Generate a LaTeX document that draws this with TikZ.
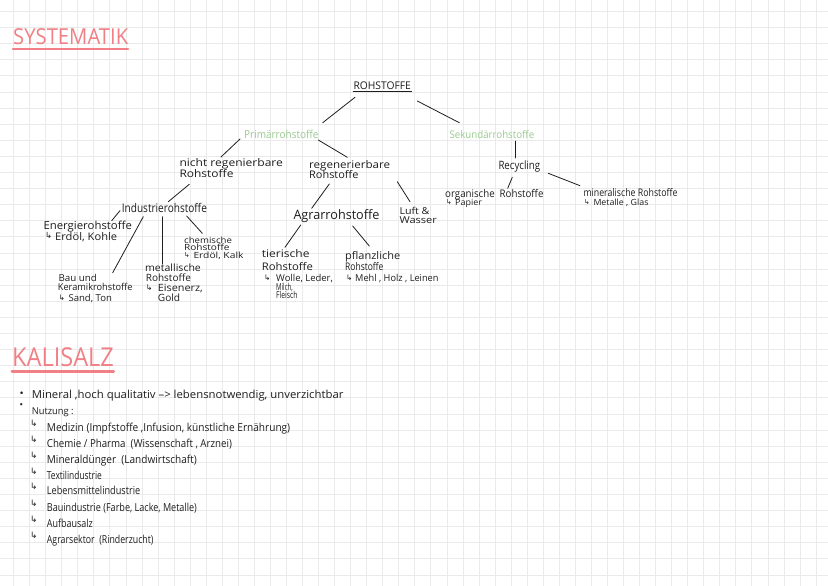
\documentclass[tikz,border=0pt]{standalone}
\usepackage{fontspec}
\usepackage{graphicx}
\setmainfont{Open Sans}
\newfontfamily\symf{DejaVu Sans}
\definecolor{ink}{RGB}{30,30,30}
\definecolor{pinkt}{RGB}{240,128,133}
\definecolor{greent}{RGB}{155,202,145}
\definecolor{gridc}{RGB}{234,234,234}
\newcommand\fsz[1]{\fontsize{#1}{#1}\selectfont}
\newcommand\fw[2]{\resizebox{#1pt}{\height}{#2}}
\newcommand\hk{\raisebox{0.1em}{\scalebox{0.8}{\symf ↳}}}
\newcommand\subl[3]{\makebox[#1pt][l]{\hk}\fw{#2}{#3}}
\newcommand\lit[2]{\makebox[16.7pt][l]{\raisebox{0.35em}{\hk}}\fw{#1}{#2}}
\newcommand\bul[1]{\makebox[12.7pt][l]{\raisebox{#1pt}{\scalebox{0.8}{\symf •}}}}
\begin{document}
\begin{tikzpicture}[x=1pt,y=-1pt,
  lbl/.style={inner sep=0pt, anchor=base west, text=ink},
  conn/.style={draw=ink, line width=0.8pt, line cap=round},
  uline/.style={draw=pinkt, line width=2.6pt, line cap=round},
  gridline/.style={draw=gridc, line width=0.7pt}]
\useasboundingbox[fill=white] (0,0) rectangle (828,586);
% grid paper
\foreach \k in {0,...,50} {\draw[gridline] (13.5+16.05*\k,0) -- (13.5+16.05*\k,586);}
\foreach \k in {0,...,35} {\draw[gridline] (0,11.4+16.1*\k) -- (828,11.4+16.1*\k);}

% ---------- SYSTEMATIK ----------
\node[lbl,font=\fsz{22},text=pinkt] (sys) at (13,45) {\fw{115}{SYSTEMATIK}};
\draw[uline] ([shift={(0,4.2)}]sys.base west) -- ([shift={(115,4.2)}]sys.base west);

\node[lbl,font=\fsz{10.6}] (roh) at (353.3,89.3) {\fw{57.4}{ROHSTOFFE}};
\draw[draw=ink,line width=0.8pt] ([shift={(-0.6,2.4)}]roh.base west) -- ([shift={(58.4,2.4)}]roh.base west);

\node[lbl,font=\fsz{11},text=greent] (prim) at (244,138.3) {\fw{74.3}{Primärrohstoffe}};
\node[lbl,font=\fsz{10.5},text=greent] (sek) at (449.3,139) {\fw{84.7}{Sekundärrohstoffe}};

\node[lbl,font=\fsz{10.5}] (nicht1) at (179.3,166.7) {\fw{103.4}{nicht regenierbare}};
\node[lbl,font=\fsz{10.5}] (nicht2) at (179.3,177.3) {\fw{54}{Rohstoffe}};
\node[lbl,font=\fsz{10.5}] (reg1) at (309,168) {\fw{81}{regenerierbare}};
\node[lbl,font=\fsz{10.5}] (reg2) at (309,178) {\fw{49.3}{Rohstoffe}};

\node[lbl,font=\fsz{11.5}] (rec) at (498.3,169) {\fw{41.7}{Recycling}};
\node[lbl,font=\fsz{10.5}] (org) at (445,197) {\fw{98.3}{organische\ \ Rohstoffe}};
\node[lbl,font=\fsz{8.5}] (org2) at (446,205.5) {\subl{9}{26.7}{Papier}};
\node[lbl,font=\fsz{10.5}] (min) at (583.3,196) {\fw{94}{mineralische Rohstoffe}};
\node[lbl,font=\fsz{8.5}] (min2) at (584,205.3) {\subl{9.3}{55}{Metalle , Glas}};

\node[lbl,font=\fsz{12}] (ind) at (121.7,212) {\fw{85}{Industrierohstoffe}};
\node[lbl,font=\fsz{11}] (ene1) at (43.3,229.7) {\fw{88.4}{Energierohstoffe}};
\node[lbl,font=\fsz{10.5}] (ene2) at (45,240) {\subl{10}{62}{Erdöl, Kohle}};

\node[lbl,font=\fsz{9.5}] (bau1) at (58.3,281.7) {\fw{38.4}{Bau und}};
\node[lbl,font=\fsz{9.5}] (bau2) at (57.7,290.7) {\fw{74.6}{Keramikrohstoffe}};
\node[lbl,font=\fsz{9.5}] (bau3) at (58.3,301) {\subl{10}{43.4}{Sand, Ton}};

\node[lbl,font=\fsz{10}] (met1) at (145,271.7) {\fw{55.7}{metallische}};
\node[lbl,font=\fsz{10}] (met2) at (145.7,281.7) {\fw{45}{Rohstoffe}};
\node[lbl,font=\fsz{10}] (met3) at (145.7,291.7) {\subl{12}{45}{Eisenerz,}};
\node[lbl,font=\fsz{10}] (met4) at (157.7,301) {\fw{22.3}{Gold}};

\node[lbl,font=\fsz{8.5}] (che1) at (184,243.3) {\fw{47.7}{chemische}};
\node[lbl,font=\fsz{8.5}] (che2) at (184,250.7) {\fw{45.3}{Rohstoffe}};
\node[lbl,font=\fsz{8.5}] (che3) at (184,258.3) {\subl{9.3}{50}{Erdöl, Kalk}};

\node[lbl,font=\fsz{13}] (agr) at (293.3,219.3) {\fw{86}{Agrarrohstoffe}};
\node[lbl,font=\fsz{9.5}] (luft1) at (399.3,214) {\fw{30}{Luft \&}};
\node[lbl,font=\fsz{9.5}] (luft2) at (399.3,223.3) {\fw{37.4}{Wasser}};

\node[lbl,font=\fsz{10.5}] (tie1) at (261.7,257.3) {\fw{47.6}{tierische}};
\node[lbl,font=\fsz{10.5}] (tie2) at (261.7,270) {\fw{51}{Rohstoffe}};
\node[lbl,font=\fsz{9.5}] (tie3) at (264,281.7) {\subl{12}{56.7}{Wolle, Leder,}};
\node[lbl,font=\fsz{9.5}] (tie4) at (276,290) {\fw{16.7}{Milch,}};
\node[lbl,font=\fsz{9.5}] (tie5) at (276,298.3) {\fw{21.3}{Fleisch}};

\node[lbl,font=\fsz{10.5}] (pfl1) at (345,259.3) {\fw{55}{pflanzliche}};
\node[lbl,font=\fsz{10.5}] (pfl2) at (345,270) {\fw{38.3}{Rohstoffe}};
\node[lbl,font=\fsz{9.5}] (pfl3) at (346,281.7) {\subl{9}{83.3}{Mehl , Holz , Leinen}};

% ---------- connectors ----------
\draw[conn] ([shift={(1.7,8)}]roh.base west) -- ([shift={(78.7,-15.6)}]prim.base west);
\draw[conn] ([shift={(64,11.7)}]roh.base west) -- ([shift={(10,-16.3)}]sek.base west);
\draw[conn] ([shift={(-4,0.7)}]prim.base west) -- ([shift={(41.7,-9.7)}]nicht1.base west);
\draw[conn] ([shift={(74.3,1.7)}]prim.base west) -- ([shift={(38.3,-10.7)}]reg1.base west);
\draw[conn] ([shift={(66.4,2)}]sek.base west) -- ([shift={(17.4,-11)}]rec.base west);
\draw[conn] ([shift={(14,8.3)}]rec.base west) -- ([shift={(62.7,-8.7)}]org.base west);
\draw[conn] ([shift={(50,4.3)}]rec.base west) -- ([shift={(-3.3,-10.3)}]min.base west);
\draw[conn] ([shift={(10,7)}]nicht2.base west) -- ([shift={(46.6,-10.3)}]ind.base west);
\draw[conn] ([shift={(-1.7,-1.3)}]ind.base west) -- ([shift={(68.4,-9)}]ene1.base west);
\draw[conn] ([shift={(21.6,4.7)}]ind.base west) -- ([shift={(54.4,-9)}]bau1.base west);
\draw[conn] ([shift={(41,4.7)}]ind.base west) -- ([shift={(17.7,-7.7)}]met1.base west);
\draw[conn] ([shift={(65,4)}]ind.base west) -- ([shift={(18.3,-10)}]che1.base west);
\draw[conn] ([shift={(20.3,6)}]reg2.base west) -- ([shift={(18.4,-11)}]agr.base west);
\draw[conn] ([shift={(88.3,3.7)}]reg2.base west) -- ([shift={(10.7,-12.3)}]luft1.base west);
\draw[conn] ([shift={(7.4,5.7)}]agr.base west) -- ([shift={(23.3,-10)}]tie1.base west);
\draw[conn] ([shift={(59.4,6.7)}]agr.base west) -- ([shift={(24.3,-13.3)}]pfl1.base west);

% ---------- KALISALZ ----------
\node[lbl,font=\fsz{26},text=pinkt] (kali) at (12,366.7) {\fw{101.6}{KALISALZ}};
\draw[uline,line width=3pt] ([shift={(0,4.3)}]kali.base west) -- ([shift={(101.6,4.3)}]kali.base west);

\node[lbl,font=\fsz{11}] (b1) at (19,398.3) {\bul{2}\fw{311.6}{Mineral ,hoch qualitativ –> lebensnotwendig, unverzichtbar}};
\node[lbl,font=\fsz{9.5}] (b2) at (19,414.3) {\bul{6.5}\fw{41.6}{Nutzung :}};

\node[lbl,font=\fsz{11}] (l1) at (30,431) {\lit{243.3}{Medizin (Impfstoffe ,Infusion, künstliche Ernährung)}};
\node[lbl,font=\fsz{11}] (l2) at (30,447) {\lit{185}{Chemie / Pharma\ \ (Wissenschaft , Arznei)}};
\node[lbl,font=\fsz{11}] (l3) at (30,463) {\lit{150}{Mineraldünger\ \ (Landwirtschaft)}};
\node[lbl,font=\fsz{11}] (l4) at (30,479) {\lit{55}{Textilindustrie}};
\node[lbl,font=\fsz{11}] (l5) at (30,494.5) {\lit{93.3}{Lebensmittelindustrie}};
\node[lbl,font=\fsz{11}] (l6) at (30,511) {\lit{150}{Bauindustrie (Farbe, Lacke, Metalle)}};
\node[lbl,font=\fsz{11}] (l7) at (30,527) {\lit{46}{Aufbausalz}};
\node[lbl,font=\fsz{11}] (l8) at (30,543) {\lit{106.6}{Agrarsektor\ \ (Rinderzucht)}};
\end{tikzpicture}
\end{document}
